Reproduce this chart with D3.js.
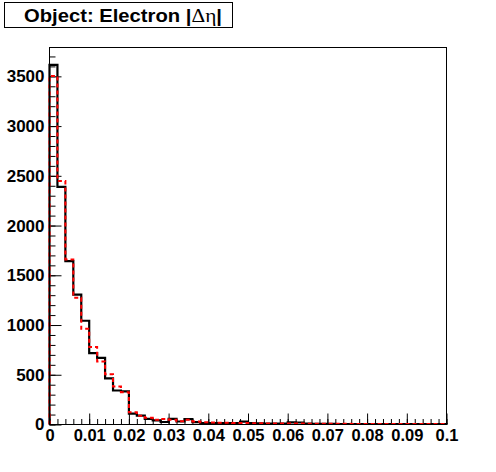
<!DOCTYPE html>
<html>
<head>
<meta charset="utf-8">
<script src="https://cdn.jsdelivr.net/npm/d3@7"></script>
<style>
  html, body { margin: 0; padding: 0; background: #fff; }
  svg { display: block; }
  .tick text { font-family: "Liberation Sans", Arial, sans-serif; font-weight: bold; fill: #000; }
  .xax .tick text { font-size: 16.5px; }
  .yax .tick text { font-size: 17px; }
</style>
</head>
<body>
<script>
// ---- data ----
const binWidth = 0.002;
const blackCounts = [3615, 2388, 1643, 1305, 1043, 717, 669, 463, 342, 333,
  110, 90, 57, 42, 25, 57, 30, 55, 23, 15,
  13, 13, 13, 13, 28, 14, 12, 10, 10, 8,
  22, 20, 8, 6, 6, 6, 5, 5, 5, 5,
  5, 5, 5, 5, 5, 5, 5, 5, 5, 5];
const redCounts = [3504, 2448, 1660, 1275, 963, 780, 634, 505, 382, 325,
  122, 88, 67, 47, 55, 47, 33, 47, 30, 22,
  20, 17, 17, 15, 15, 12, 12, 10, 10, 10,
  10, 10, 8, 8, 8, 7, 7, 7, 6, 6,
  6, 6, 5, 5, 5, 5, 5, 5, 5, 5];
const xTickValues = [0, 0.01, 0.02, 0.03, 0.04, 0.05, 0.06, 0.07, 0.08, 0.09, 0.1];
const xTickLabels = ["0", "0.01", "0.02", "0.03", "0.04", "0.05", "0.06", "0.07", "0.08", "0.09", "0.1"];
const yTickValues = [0, 500, 1000, 1500, 2000, 2500, 3000, 3500];
const yTickLabels = ["0", "500", "1000", "1500", "2000", "2500", "3000", "3500"];
const titleMain = "Object: Electron |";
const titleGreek = "\u0394\u03b7";
const titleEnd = "|";

// ---- layout ----
const W = 496, H = 472;
const padL = 49.5, padR = 446.5, padT = 47.5, padB = 424.5;

const svg = d3.select("body").append("svg").attr("width", W).attr("height", H);
svg.append("rect").attr("width", W).attr("height", H).attr("fill", "#fff");

const x = d3.scaleLinear().domain([0, 0.1]).range([padL, padR]);
const y = d3.scaleLinear().domain([0, 3790]).range([padB, padT]);

function stepPoints(counts) {
  const pts = [[0, 0]];
  counts.forEach((v, i) => {
    pts.push([i * binWidth, v]);
    pts.push([(i + 1) * binWidth, v]);
  });
  pts.push([counts.length * binWidth, 0]);
  return pts;
}
const line = d3.line().x(d => x(d[0])).y(d => y(d[1]));

// minor ticks
const xMinor = d3.range(0, 51).map(i => i * binWidth);
const yMinor = d3.range(0, 38).map(i => i * 100);

svg.append("g").attr("transform", `translate(0,${padB})`)
  .call(d3.axisBottom(x).tickValues(xMinor).tickSize(-5.5).tickFormat(""))
  .call(g => g.select(".domain").remove());
svg.append("g").attr("transform", `translate(${padL},0)`)
  .call(d3.axisLeft(y).tickValues(yMinor).tickSize(-6).tickFormat(""))
  .call(g => g.select(".domain").remove());

// major ticks + labels
svg.append("g").attr("class", "xax").attr("transform", `translate(0,${padB})`)
  .call(d3.axisBottom(x).tickValues(xTickValues).tickSize(-11).tickPadding(5)
    .tickFormat((d, i) => xTickLabels[i]))
  .call(g => g.select(".domain").remove());
svg.append("g").attr("class", "yax").attr("transform", `translate(${padL},0)`)
  .call(d3.axisLeft(y).tickValues(yTickValues).tickSize(-12).tickPadding(5)
    .tickFormat((d, i) => yTickLabels[i]))
  .call(g => g.select(".domain").remove());

svg.selectAll(".tick line").attr("stroke", "#000").attr("stroke-width", 1);

// histograms
svg.append("path").attr("d", line(stepPoints(blackCounts)))
  .attr("fill", "none").attr("stroke", "#000").attr("stroke-width", 2.2);
svg.append("path").attr("d", line(stepPoints(redCounts)))
  .attr("fill", "none").attr("stroke", "#ff0000").attr("stroke-width", 2)
  .attr("stroke-dasharray", "4,3");

// frame
svg.append("rect").attr("x", padL).attr("y", padT)
  .attr("width", padR - padL).attr("height", padB - padT)
  .attr("fill", "none").attr("stroke", "#000").attr("stroke-width", 1);

// title box
svg.append("rect").attr("x", 4.5).attr("y", 2.5).attr("width", 228).attr("height", 25)
  .attr("fill", "#fff").attr("stroke", "#000").attr("stroke-width", 1);
const t = svg.append("text").attr("x", 24).attr("y", 21.5)
  .attr("font-family", "Liberation Sans, Arial, sans-serif").attr("font-weight", "bold")
  .attr("font-size", 18).attr("fill", "#000")
  .attr("textLength", 198).attr("lengthAdjust", "spacingAndGlyphs");
t.append("tspan").text(titleMain);
t.append("tspan").attr("font-family", "Liberation Serif, Times New Roman, serif")
  .attr("font-weight", "normal").attr("font-size", 19).text(titleGreek);
t.append("tspan").text(titleEnd);
</script>
</body>
</html>
